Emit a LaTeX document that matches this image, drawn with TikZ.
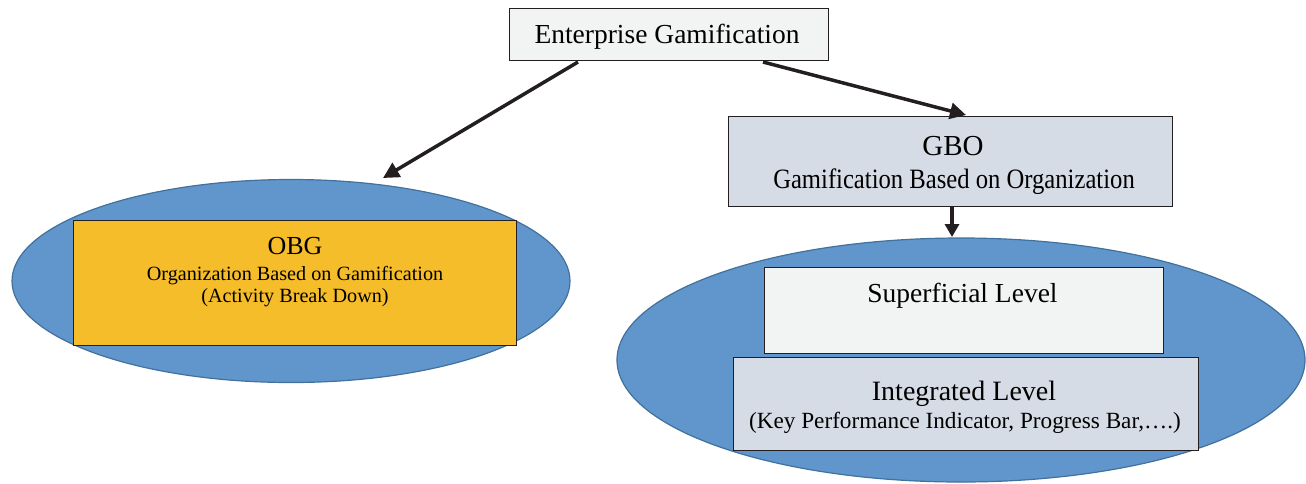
\documentclass[tikz,border=0pt]{standalone}
\usepackage{fontspec}
\setmainfont{Liberation Serif}
\usetikzlibrary{arrows.meta,shapes.geometric}
\definecolor{boxgray}{HTML}{F2F4F3}
\definecolor{boxblue}{HTML}{D6DCE5}
\definecolor{ellfill}{HTML}{6096CB}
\definecolor{elledge}{HTML}{41719C}
\definecolor{orangebox}{HTML}{F5BD2A}
\definecolor{lineblk}{HTML}{231F20}
\tikzset{
  rbox/.style={draw=lineblk, line width=1.2pt, rectangle, inner sep=0pt, anchor=north west},
  oval/.style={draw=elledge, line width=1.2pt, fill=ellfill, ellipse, inner sep=0pt},
  conn/.style={draw=lineblk, line width=3.5pt, -{Triangle[length=16pt,width=16pt]}},
  lbl/.style={inner sep=0pt, text=black, anchor=base}
}
\begin{document}
\begin{tikzpicture}[x=1pt,y=-1pt]
\useasboundingbox (0,0) rectangle (1306,483);
% ellipses
\node[oval, minimum width=558pt, minimum height=203pt] (lell) at (291,281) {};
\node[oval, minimum width=688pt, minimum height=244pt] (rell) at (961,360) {};
% top box
\node[rbox, fill=boxgray, minimum width=319pt, minimum height=52pt] (top) at (509,8) {};
\node[lbl, font=\fontsize{27.5}{30}\selectfont] (toptxt) at (667,43) {Enterprise Gamification};
% GBO box
\node[rbox, fill=boxblue, minimum width=444pt, minimum height=90pt] (gbo) at (728,116) {};
\node[lbl, font=\fontsize{29}{30}\selectfont] (gbot) at (953,155) {GBO};
\node[lbl, font=\fontsize{28}{30}\selectfont] (gbos) at (954,188) {\scalebox{0.88}[1]{Gamification Based on Organization}};
% OBG box
\node[rbox, fill=orangebox, minimum width=443pt, minimum height=125pt] (obg) at (73,220) {};
\node[lbl, font=\fontsize{26}{30}\selectfont] (obgt) at (295,254) {OBG};
\node[lbl, font=\fontsize{20.2}{22}\selectfont] (obgs) at (295,280) {Organization Based on Gamification};
\node[lbl, font=\fontsize{20.2}{22}\selectfont] (obga) at (295,302) {(Activity Break Down)};
% superficial
\node[rbox, fill=boxgray, minimum width=399pt, minimum height=86pt] (sup) at (764,267) {};
\node[lbl, font=\fontsize{27.5}{30}\selectfont] (supt) at (962.5,302) {Superficial Level};
% integrated
\node[rbox, fill=boxblue, minimum width=465pt, minimum height=93pt] (intg) at (733,357) {};
\node[lbl, font=\fontsize{28}{30}\selectfont] (intt) at (964,400) {Integrated Level};
\node[lbl, font=\fontsize{23.2}{26}\selectfont] (ints) at (965,428) {(Key Performance Indicator, Progress Bar,….)};
% connectors
\coordinate (a1s) at (578,62);
\coordinate (a1e) at (383,178);
\coordinate (a2s) at (763,62);
\coordinate (a2e) at (966,115);
\coordinate (a3s) at (952,207);
\coordinate (a3e) at (952,237);
\draw[conn] (a1s) -- (a1e);
\draw[conn] (a2s) -- (a2e);
\draw[conn, -{Triangle[length=13pt,width=14pt]}] (a3s) -- (a3e);
\end{tikzpicture}
\end{document}
